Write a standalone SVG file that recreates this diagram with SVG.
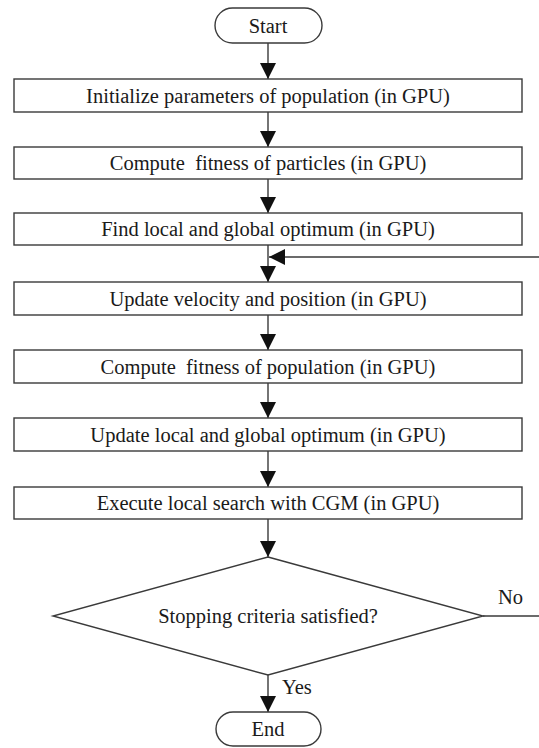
<svg xmlns="http://www.w3.org/2000/svg" width="539" height="748" viewBox="0 0 539 748">
<style>
.s{fill:#fff;stroke:#3a3a3a;stroke-width:1.4}
.t{font-family:"Liberation Serif","Times New Roman",serif;font-size:20.5px;fill:#1a1a1a;text-anchor:middle}
.l{font-family:"Liberation Serif","Times New Roman",serif;font-size:20.5px;fill:#1a1a1a}
.c{stroke:#3a3a3a;stroke-width:1.4;fill:none}
</style>
<defs>
<marker id="a" viewBox="0 0 16 18" refX="16" refY="9" markerWidth="16" markerHeight="18" markerUnits="userSpaceOnUse" orient="auto">
<path d="M0,1 L16,9 L0,17 Z" fill="#111"/>
</marker>
</defs>
<g id="connectors">
<line class="c" x1="268" y1="43" x2="268" y2="79" marker-end="url(#a)"/>
<line class="c" x1="268" y1="112" x2="268" y2="147" marker-end="url(#a)"/>
<line class="c" x1="268" y1="179" x2="268" y2="213" marker-end="url(#a)"/>
<line class="c" x1="268" y1="245" x2="268" y2="282" marker-end="url(#a)"/>
<line class="c" x1="539" y1="257" x2="269" y2="257" marker-end="url(#a)"/>
<line class="c" x1="268" y1="315" x2="268" y2="350" marker-end="url(#a)"/>
<line class="c" x1="268" y1="383" x2="268" y2="418" marker-end="url(#a)"/>
<line class="c" x1="268" y1="451" x2="268" y2="487" marker-end="url(#a)"/>
<line class="c" x1="268" y1="519" x2="268" y2="557" marker-end="url(#a)"/>
<line class="c" x1="268" y1="675" x2="268" y2="712" marker-end="url(#a)"/>
<line class="c" x1="483" y1="616" x2="539" y2="616"/>
<text class="l" x="282" y="694">Yes</text>
<text class="l" x="498" y="604">No</text>
</g>
<g id="start">
<rect class="s" x="215" y="8" width="107" height="35" rx="17.5"/>
<text class="t" x="268" y="33">Start</text>
</g>
<g id="n1">
<rect class="s" x="14" y="79" width="508" height="33"/>
<text class="t" x="268" y="103">Initialize parameters of population (in GPU)</text>
</g>
<g id="n2">
<rect class="s" x="14" y="147" width="508" height="32"/>
<text class="t" x="268" y="170" xml:space="preserve">Compute  fitness of particles (in GPU)</text>
</g>
<g id="n3">
<rect class="s" x="14" y="213" width="508" height="32"/>
<text class="t" x="268" y="236">Find local and global optimum (in GPU)</text>
</g>
<g id="n4">
<rect class="s" x="14" y="282" width="508" height="33"/>
<text class="t" x="268" y="306">Update velocity and position (in GPU)</text>
</g>
<g id="n5">
<rect class="s" x="14" y="350" width="508" height="33"/>
<text class="t" x="268" y="374" xml:space="preserve">Compute  fitness of population (in GPU)</text>
</g>
<g id="n6">
<rect class="s" x="14" y="418" width="508" height="33"/>
<text class="t" x="268" y="442">Update local and global optimum (in GPU)</text>
</g>
<g id="n7">
<rect class="s" x="14" y="487" width="508" height="32"/>
<text class="t" x="268" y="510">Execute local search with CGM (in GPU)</text>
</g>
<g id="decision">
<polygon class="s" points="268,557 483,616 268,675 53,616"/>
<text class="t" x="268" y="623">Stopping criteria satisfied?</text>
</g>
<g id="end">
<rect class="s" x="216" y="712" width="105" height="34" rx="17"/>
<text class="t" x="268" y="736">End</text>
</g>
</svg>
